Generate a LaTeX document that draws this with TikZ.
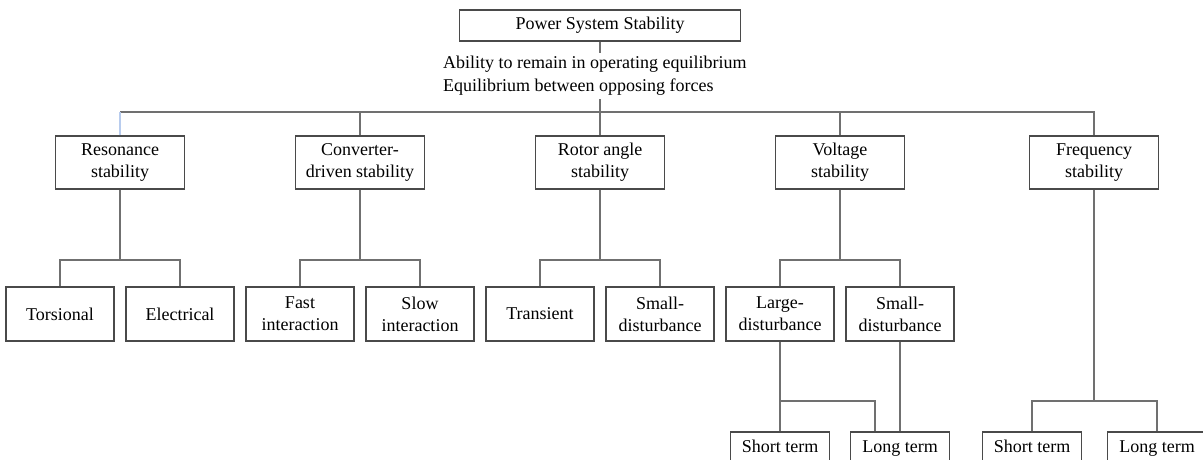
\documentclass[tikz,border=0pt]{standalone}
\usepackage{fontspec}
\setmainfont{Liberation Serif}
\usepackage{tikz}
\definecolor{boxgray}{HTML}{4A4A4A}
\definecolor{linegray}{HTML}{707070}
\definecolor{paleblue}{HTML}{B8CCEE}
\begin{document}
\begin{tikzpicture}[x=1pt,y=-1pt,node distance=120pt,
  main node/.style={rectangle,draw=boxgray,line width=1.2pt,align=center,
    inner sep=0pt,font={\fontsize{18}{22}\selectfont}},
  top node/.style={main node,minimum width=281pt,minimum height=31pt},
  big node/.style={main node,minimum width=129pt,minimum height=53pt},
  sub node/.style={main node,minimum width=108pt,minimum height=54pt},
  leaf node/.style={main node,minimum width=99pt,minimum height=32pt,
    text height=12.5pt,text depth=4pt},
  conn/.style={draw=linegray,line width=1.1pt},
  blueline/.style={draw=paleblue,line width=1.1pt}]

  \path[use as bounding box,fill=white] (0,0) rectangle (1203,460);

  \node[top node] (0) at (600,25.5) {Power System Stability};
  \node[anchor=west,align=left,inner xsep=0pt,minimum height=45pt,
    font={\fontsize{18}{23}\selectfont}] (d) at (443,76)
    {Ability to remain in operating equilibrium\\Equilibrium between opposing forces};

  % first level
  \node[big node] (1) at (120,162.5) {Resonance\\stability};
  \node[big node,node distance=240pt,right of=1] (2) {Converter-\\driven stability};
  \node[big node,node distance=240pt,right of=2] (3) {Rotor angle\\stability};
  \node[big node,node distance=240pt,right of=3] (4) {Voltage\\stability};
  \node[big node,node distance=240pt,right of=4,xshift=14pt] (5) {Frequency\\stability};

  % second level
  \node[sub node] (11) at (60,314) {Torsional};
  \node[sub node,right of=11] (12) {Electrical};
  \node[sub node,right of=12] (13) {Fast\\interaction};
  \node[sub node,right of=13] (14) {Slow\\interaction};
  \node[sub node,right of=14] (15) {Transient};
  \node[sub node,right of=15] (16) {Small-\\disturbance};
  \node[sub node,right of=16] (17) {Large-\\disturbance};
  \node[sub node,right of=17] (18) {Small-\\disturbance};

  % third level
  \node[leaf node] (21) at (780,448) {Short term};
  \node[leaf node,right of=21] (22) {Long term};
  \node[leaf node] (23) at (1032,448) {Short term};
  \node[leaf node,right of=23,xshift=5pt] (24) {Long term};

  \coordinate (b1) at (600,112);
  \coordinate (r2) at (0,260);
  \coordinate (r3) at (0,401);

  \draw[conn] (0.south) -- (0.south |- d.north);
  \draw[conn] (0.south |- d.south) -- (3.north);
  \draw[conn] (1.north |- b1) -| (5.north);
  \draw[blueline] (1.north) -- (1.north |- b1);
  \draw[conn] (2.north) -- (2.north |- b1);
  \draw[conn] (4.north) -- (4.north |- b1);

  \draw[conn] (1.south) -- (1.south |- r2);
  \draw[conn] (11.north) |- (1.south |- r2) -| (12.north);
  \draw[conn] (2.south) -- (2.south |- r2);
  \draw[conn] (13.north) |- (2.south |- r2) -| (14.north);
  \draw[conn] (3.south) -- (3.south |- r2);
  \draw[conn] (15.north) |- (3.south |- r2) -| (16.north);
  \draw[conn] (4.south) -- (4.south |- r2);
  \draw[conn] (17.north) |- (4.south |- r2) -| (18.north);

  \draw[conn] (17.south) -- (17.south |- 21.north);
  \draw[conn] (17.south |- r3) -| ([xshift=-25pt]22.north);
  \draw[conn] (18.south) -- (18.south |- 22.north);
  \draw[conn] (5.south) -- (5.south |- r3);
  \draw[conn] (23.north) |- (5.south |- r3) -| (24.north);
\end{tikzpicture}
\end{document}
